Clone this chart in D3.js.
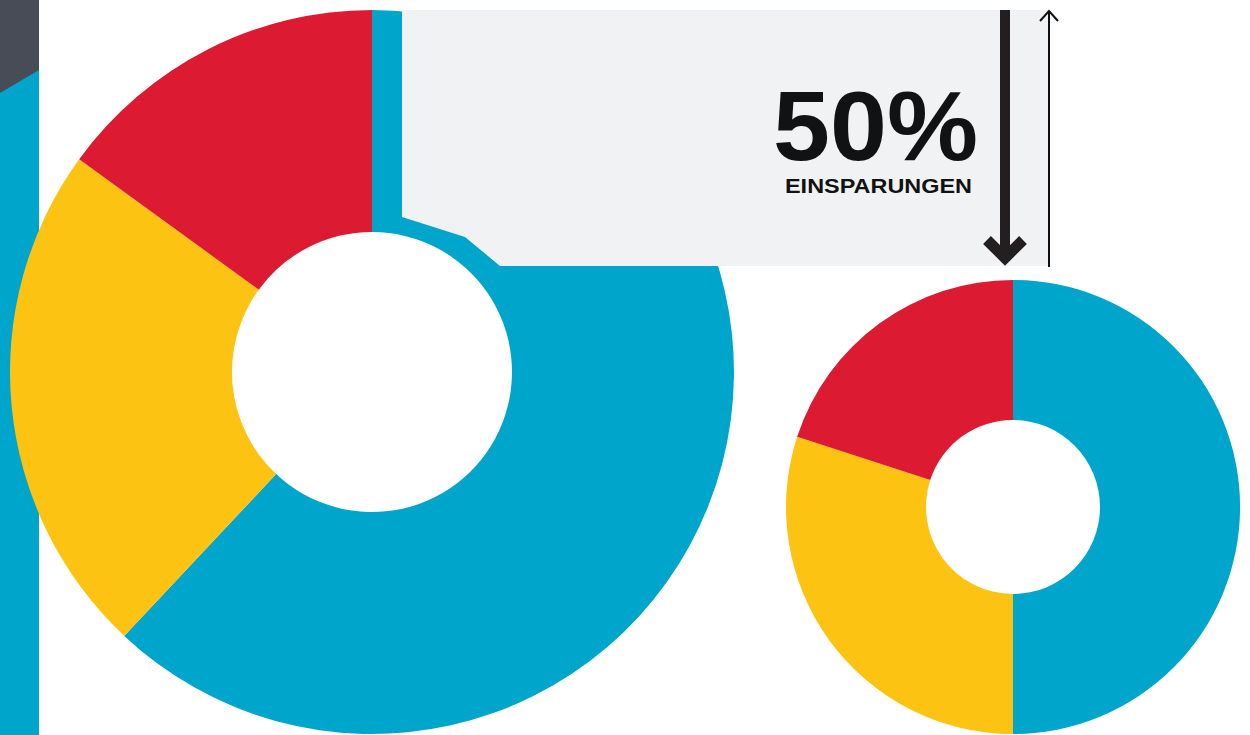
<!DOCTYPE html>
<html>
<head>
<meta charset="utf-8">
<script src="https://cdn.jsdelivr.net/npm/d3@7"></script>
<style>
  html, body { margin: 0; padding: 0; background: #fff; }
  #chart { width: 1250px; height: 735px; overflow: hidden; }
  svg { display: block; }
</style>
</head>
<body>
<div id="chart"></div>
<script>
// Two donuts: before (large) and after (small), plus the savings callout.
var categories = ["Blau", "Gelb", "Rot"];
var beforeValues = [62, 23, 15];
var afterValues = [50, 30, 20];
var savingsLabel = "50%";
var savingsCaption = "EINSPARUNGEN";

var COLORS = { "Blau": "#00a5cc", "Gelb": "#fdc312", "Rot": "#dc1b33" };

(function () {
    "use strict";
    var width = 1250, height = 735;
    var svg = d3.select("#chart").append("svg").attr("width", width).attr("height", height);

    // left edge strip
    svg.append("rect").attr("x", 0).attr("y", 0).attr("width", 39).attr("height", height).attr("fill", "#00a5cc");
    svg.append("path").attr("d", "M0,0L39,0L39,70L0,93Z").attr("fill", "#474c57");

    function donut(values, cx, cy, rOuter, rInner) {
        var data = categories.map(function (c, i) { return { label: c, value: values[i] }; });
        var pie = d3.pie().value(function (d) { return d.value; }).sort(null);
        var arc = d3.arc().innerRadius(rInner).outerRadius(rOuter);
        var g = svg.append("g").attr("transform", "translate(" + cx + "," + cy + ")");
        g.selectAll("path").data(pie(data)).enter().append("path")
            .attr("d", arc)
            .attr("fill", function (d) { return COLORS[d.data.label]; });
    }

    donut(beforeValues, 372, 372, 362, 140);

    // grey callout panel, notched around the large ring
    svg.append("path")
        .attr("d", "M402,10L1049,10L1049,266L500,266L465,237L402,217Z")
        .attr("fill", "#f1f2f4");

    donut(afterValues, 1013, 507, 227, 87);

    // thick down arrow
    svg.append("line").attr("x1", 1005).attr("x2", 1005).attr("y1", 10).attr("y2", 255)
        .attr("stroke", "#231f20").attr("stroke-width", 10);
    svg.append("path").attr("d", "M987,240L1005,258L1023,240")
        .attr("fill", "none").attr("stroke", "#231f20").attr("stroke-width", 11)
        .attr("stroke-linejoin", "miter");

    // thin up arrow
    svg.append("line").attr("x1", 1049).attr("x2", 1049).attr("y1", 11).attr("y2", 267)
        .attr("stroke", "#111").attr("stroke-width", 2);
    svg.append("path").attr("d", "M1040,21L1049,11L1058,21")
        .attr("fill", "none").attr("stroke", "#111").attr("stroke-width", 2);

    svg.append("text").attr("x", 978).attr("y", 160).attr("text-anchor", "end")
        .attr("textLength", 205).attr("lengthAdjust", "spacingAndGlyphs")
        .style("font-family", "'Liberation Sans', Arial, sans-serif").style("font-weight", "bold")
        .style("font-size", "98px").style("fill", "#111213")
        .text(savingsLabel);
    svg.append("text").attr("x", 972).attr("y", 193).attr("text-anchor", "end")
        .attr("textLength", 187).attr("lengthAdjust", "spacingAndGlyphs")
        .style("font-family", "'Liberation Sans', Arial, sans-serif").style("font-weight", "bold")
        .style("font-size", "21px").style("fill", "#111213")
        .text(savingsCaption);
})();
</script>
</body>
</html>
